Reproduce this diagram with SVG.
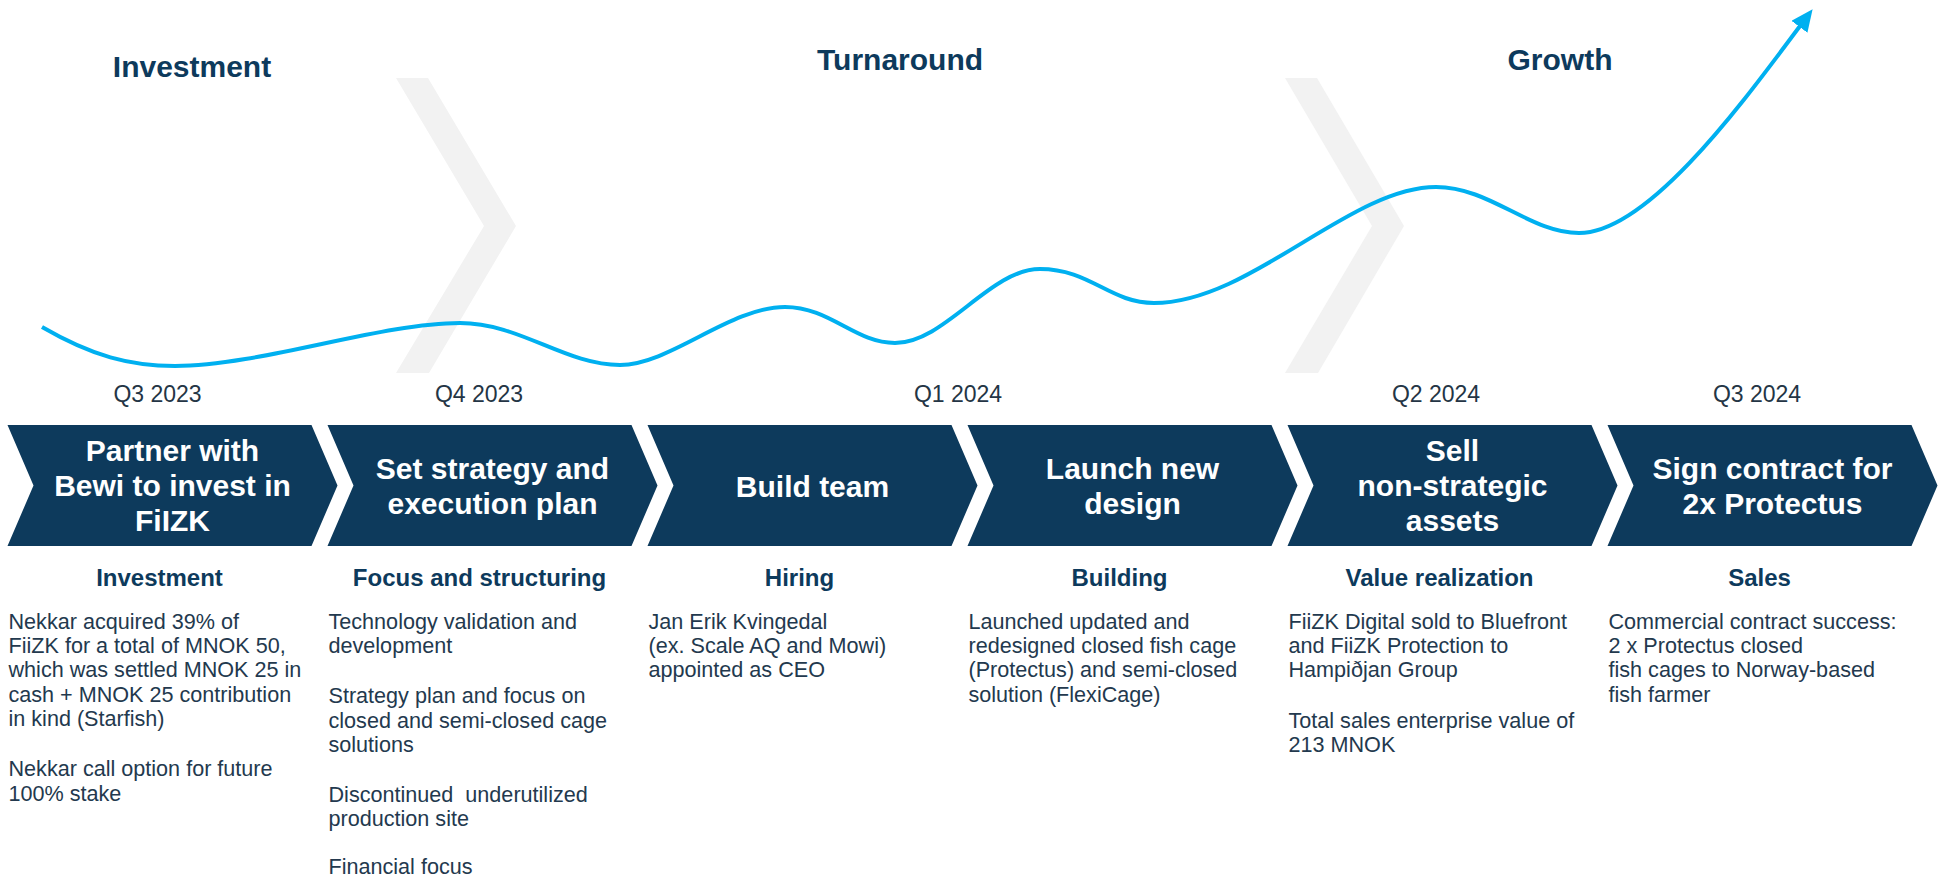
<svg xmlns="http://www.w3.org/2000/svg" width="1939" height="877" viewBox="0 0 1939 877">
  <style>
    .phase { font-family: "Liberation Sans", Arial, sans-serif; font-weight: bold; font-size: 30px; fill: #0D3A5C; text-anchor: middle; }
    .divider { fill: #F2F2F2; }
    .quarter { font-family: "Liberation Sans", Arial, sans-serif; font-size: 23px; fill: #243545; text-anchor: middle; }
    .chev { fill: #0D3A5C; }
    .chev-text { font-family: "Liberation Sans", Arial, sans-serif; font-weight: bold; font-size: 30px; fill: #FFFFFF; text-anchor: middle; }
    .sub { font-family: "Liberation Sans", Arial, sans-serif; font-weight: bold; font-size: 24px; fill: #0D3A5C; text-anchor: middle; }
    .body { font-family: "Liberation Sans", Arial, sans-serif; font-size: 21.6px; fill: #23394E; }
    .curve { fill: none; stroke: #00B0F0; stroke-width: 4; }
  </style>
  <defs>
    <marker id="arrow-head" markerUnits="userSpaceOnUse" viewBox="0 0 22 20" refX="1" refY="10" markerWidth="22" markerHeight="20" orient="auto">
      <path d="M0,0 L22,10 L0,20 z" fill="#00B0F0"/>
    </marker>
    <polygon id="step-shape" points="0,425 304,425 330,485.5 304,546 0,546 26,485.5"/>
  </defs>

  <rect width="1939" height="877" fill="#FFFFFF"/>

  <!-- faint phase separators -->
  <g id="phase-dividers">
    <polygon class="divider" points="396,78 428,78 516,226 429,373 396,373 484,226"/>
    <polygon class="divider" points="1285,78 1317,78 1404,226 1318,373 1285,373 1372,226"/>
  </g>

  <!-- phase headings -->
  <g id="phases">
    <text class="phase" x="192" y="77">Investment</text>
    <text class="phase" x="900" y="70">Turnaround</text>
    <text class="phase" x="1560" y="70">Growth</text>
  </g>

  <!-- development curve -->
  <g id="connectors">
    <path class="curve" marker-end="url(#arrow-head)" d="M42,327 C92,356 130,366 175,366 C260,366 380,323 460,323 C520,323 565,365 620,365 C670,365 730,307 785,307 C830,307 855,343 895,343 C945,343 990,269 1040,269 C1090,269 1110,303 1154,303 C1250,303 1350,187 1436,187 C1490,187 1530,233 1579,233 C1649,233 1746,98 1800,26"/>
  </g>

  <!-- step 1 -->
  <g id="step-q3-2023">
    <text class="quarter" x="157.5" y="402">Q3 2023</text>
    <use href="#step-shape" class="chev" x="7.5"/>
    <text class="chev-text" x="172.5"><tspan x="172.5" y="461">Partner with</tspan><tspan x="172.5" y="496">Bewi to invest in</tspan><tspan x="172.5" y="531">FiIZK</tspan></text>
    <text class="sub" x="159.5" y="586">Investment</text>
    <text class="body"><tspan x="8.5" y="629">Nekkar acquired 39% of</tspan><tspan x="8.5" y="653.2">FiiZK for a total of MNOK 50,</tspan><tspan x="8.5" y="677.4">which was settled MNOK 25 in</tspan><tspan x="8.5" y="701.6">cash + MNOK 25 contribution</tspan><tspan x="8.5" y="725.8">in kind (Starfish)</tspan><tspan x="8.5" y="776.3">Nekkar call option for future</tspan><tspan x="8.5" y="800.5">100% stake</tspan></text>
  </g>

  <!-- step 2 -->
  <g id="step-q4-2023">
    <text class="quarter" x="479" y="402">Q4 2023</text>
    <use href="#step-shape" class="chev" x="327.5"/>
    <text class="chev-text"><tspan x="492.5" y="479">Set strategy and</tspan><tspan x="492.5" y="514">execution plan</tspan></text>
    <text class="sub" x="479.5" y="586">Focus and structuring</text>
    <text class="body" xml:space="preserve"><tspan x="328.5" y="629">Technology validation and</tspan><tspan x="328.5" y="653.2">development</tspan><tspan x="328.5" y="703.3">Strategy plan and focus on</tspan><tspan x="328.5" y="727.5">closed and semi-closed cage</tspan><tspan x="328.5" y="751.7">solutions</tspan><tspan x="328.5" y="801.7">Discontinued  underutilized</tspan><tspan x="328.5" y="825.9">production site</tspan><tspan x="328.5" y="874">Financial focus</tspan></text>
  </g>

  <!-- step 3 -->
  <g id="step-build-team">
    <text class="quarter" x="958" y="402">Q1 2024</text>
    <use href="#step-shape" class="chev" x="647.5"/>
    <text class="chev-text" x="812.5" y="496.5">Build team</text>
    <text class="sub" x="799.5" y="586">Hiring</text>
    <text class="body"><tspan x="648.5" y="629">Jan Erik Kvingedal</tspan><tspan x="648.5" y="653.2">(ex. Scale AQ and Mowi)</tspan><tspan x="648.5" y="677.4">appointed as CEO</tspan></text>
  </g>

  <!-- step 4 -->
  <g id="step-launch-design">
    <use href="#step-shape" class="chev" x="967.5"/>
    <text class="chev-text"><tspan x="1132.5" y="479">Launch new</tspan><tspan x="1132.5" y="514">design</tspan></text>
    <text class="sub" x="1119.5" y="586">Building</text>
    <text class="body"><tspan x="968.5" y="629">Launched updated and</tspan><tspan x="968.5" y="653.2">redesigned closed fish cage</tspan><tspan x="968.5" y="677.4">(Protectus) and semi-closed</tspan><tspan x="968.5" y="701.6">solution (FlexiCage)</tspan></text>
  </g>

  <!-- step 5 -->
  <g id="step-q2-2024">
    <text class="quarter" x="1436" y="402">Q2 2024</text>
    <use href="#step-shape" class="chev" x="1287.5"/>
    <text class="chev-text"><tspan x="1452.5" y="461">Sell</tspan><tspan x="1452.5" y="496">non-strategic</tspan><tspan x="1452.5" y="531">assets</tspan></text>
    <text class="sub" x="1439.5" y="586">Value realization</text>
    <text class="body"><tspan x="1288.5" y="629">FiiZK Digital sold to Bluefront</tspan><tspan x="1288.5" y="653.2">and FiiZK Protection to</tspan><tspan x="1288.5" y="677.4">Hampiðjan Group</tspan><tspan x="1288.5" y="727.5">Total sales enterprise value of</tspan><tspan x="1288.5" y="751.7">213 MNOK</tspan></text>
  </g>

  <!-- step 6 -->
  <g id="step-q3-2024">
    <text class="quarter" x="1757" y="402">Q3 2024</text>
    <use href="#step-shape" class="chev" x="1607.5"/>
    <text class="chev-text"><tspan x="1772.5" y="479">Sign contract for</tspan><tspan x="1772.5" y="514">2x Protectus</tspan></text>
    <text class="sub" x="1759.5" y="586">Sales</text>
    <text class="body"><tspan x="1608.5" y="629">Commercial contract success:</tspan><tspan x="1608.5" y="653.2">2 x Protectus closed</tspan><tspan x="1608.5" y="677.4">fish cages to Norway-based</tspan><tspan x="1608.5" y="701.6">fish farmer</tspan></text>
  </g>
</svg>
